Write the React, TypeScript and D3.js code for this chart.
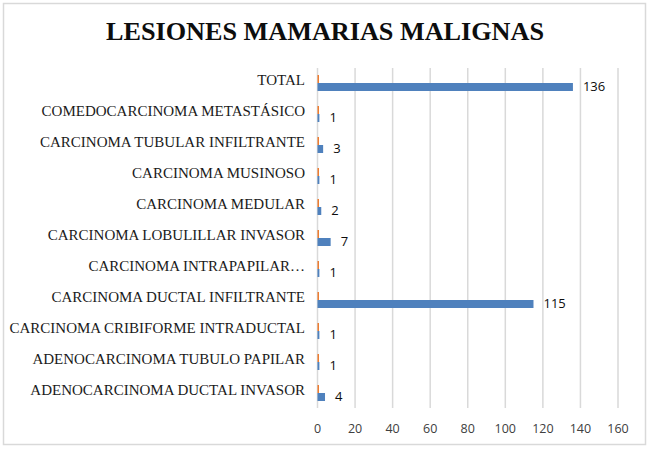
import * as d3 from "d3";
import { useEffect, useRef } from "react";

const categories = [
  "TOTAL",
  "COMEDOCARCINOMA METASTÁSICO",
  "CARCINOMA TUBULAR INFILTRANTE",
  "CARCINOMA MUSINOSO",
  "CARCINOMA MEDULAR",
  "CARCINOMA LOBULILLAR INVASOR",
  "CARCINOMA INTRAPAPILAR…",
  "CARCINOMA DUCTAL INFILTRANTE",
  "CARCINOMA CRIBIFORME INTRADUCTAL",
  "ADENOCARCINOMA TUBULO PAPILAR",
  "ADENOCARCINOMA DUCTAL INVASOR",
];
const casos = [136, 1, 3, 1, 2, 7, 1, 115, 1, 1, 4];
const secundaria = [0.8, 0.8, 0.8, 0.8, 0.8, 0.8, 0.8, 0.8, 0.8, 0.8, 0.8];
const ticks = [0, 20, 40, 60, 80, 100, 120, 140, 160];

export default function App() {
  const ref = useRef(null);

  useEffect(() => {
    const svg = d3.select(ref.current);
    svg.selectAll("*").remove();
    const width = 650, height = 451;

    svg.append("rect").attr("x", 3.5).attr("y", 3.5).attr("width", 642).attr("height", 441)
      .attr("fill", "#fff").attr("stroke", "#d9d9d9").attr("stroke-width", 1.5);

    svg.append("text").attr("x", 325).attr("y", 40).attr("text-anchor", "middle")
      .attr("font-family", "Liberation Serif").attr("font-weight", "bold").attr("font-size", 26.2)
      .attr("fill", "#0d0d0d").text("LESIONES MAMARIAS MALIGNAS");

    const x = d3.scaleLinear().domain([0, 160]).range([317.5, 618]);
    const y = d3.scaleBand().domain(categories).range([67.5, 408.5]);
    const inner = d3.scaleBand().domain(["s", "c"]).range([y.bandwidth() / 2 - 8, y.bandwidth() / 2 + 8]);

    svg.append("g").selectAll("line").data(ticks).join("line")
      .attr("x1", d => x(d)).attr("x2", d => x(d)).attr("y1", 68).attr("y2", 408)
      .attr("stroke", "#d9d9d9").attr("stroke-width", 1.5);

    svg.append("g").selectAll("text").data(ticks).join("text")
      .attr("x", d => x(d)).attr("y", 433).attr("text-anchor", "middle")
      .attr("font-family", "Open Sans").attr("font-size", 12.5).attr("fill", "#404040")
      .text(d => d);

    svg.append("g").selectAll("text").data(categories).join("text")
      .attr("x", 305).attr("y", d => y(d) + y.bandwidth() / 2 - 1).attr("text-anchor", "end")
      .attr("dominant-baseline", "middle")
      .attr("font-family", "Liberation Serif").attr("font-size", 15).attr("fill", "#1a1a1a")
      .text(d => d);

    svg.append("g").selectAll("rect").data(categories).join("rect")
      .attr("x", x(0)).attr("y", d => y(d) + inner("s"))
      .attr("width", (d, i) => x(secundaria[i]) - x(0)).attr("height", inner.bandwidth())
      .attr("fill", "#ed7d31");

    svg.append("g").selectAll("rect").data(categories).join("rect")
      .attr("x", x(0)).attr("y", d => y(d) + inner("c"))
      .attr("width", (d, i) => x(casos[i]) - x(0)).attr("height", inner.bandwidth())
      .attr("fill", "#4f81bd");

    svg.append("g").selectAll("text").data(categories).join("text")
      .attr("x", (d, i) => x(casos[i]) + 10).attr("y", d => y(d) + inner("c") + inner.bandwidth() / 2 + 1)
      .attr("dominant-baseline", "middle")
      .attr("font-family", "Open Sans").attr("font-size", 13).attr("fill", "#0d0d0d")
      .text((d, i) => casos[i]);

    svg.attr("width", width).attr("height", height);
  }, []);

  return <svg ref={ref} width={650} height={451} style={{ position: "absolute", left: 0, top: 0 }}></svg>;
}
